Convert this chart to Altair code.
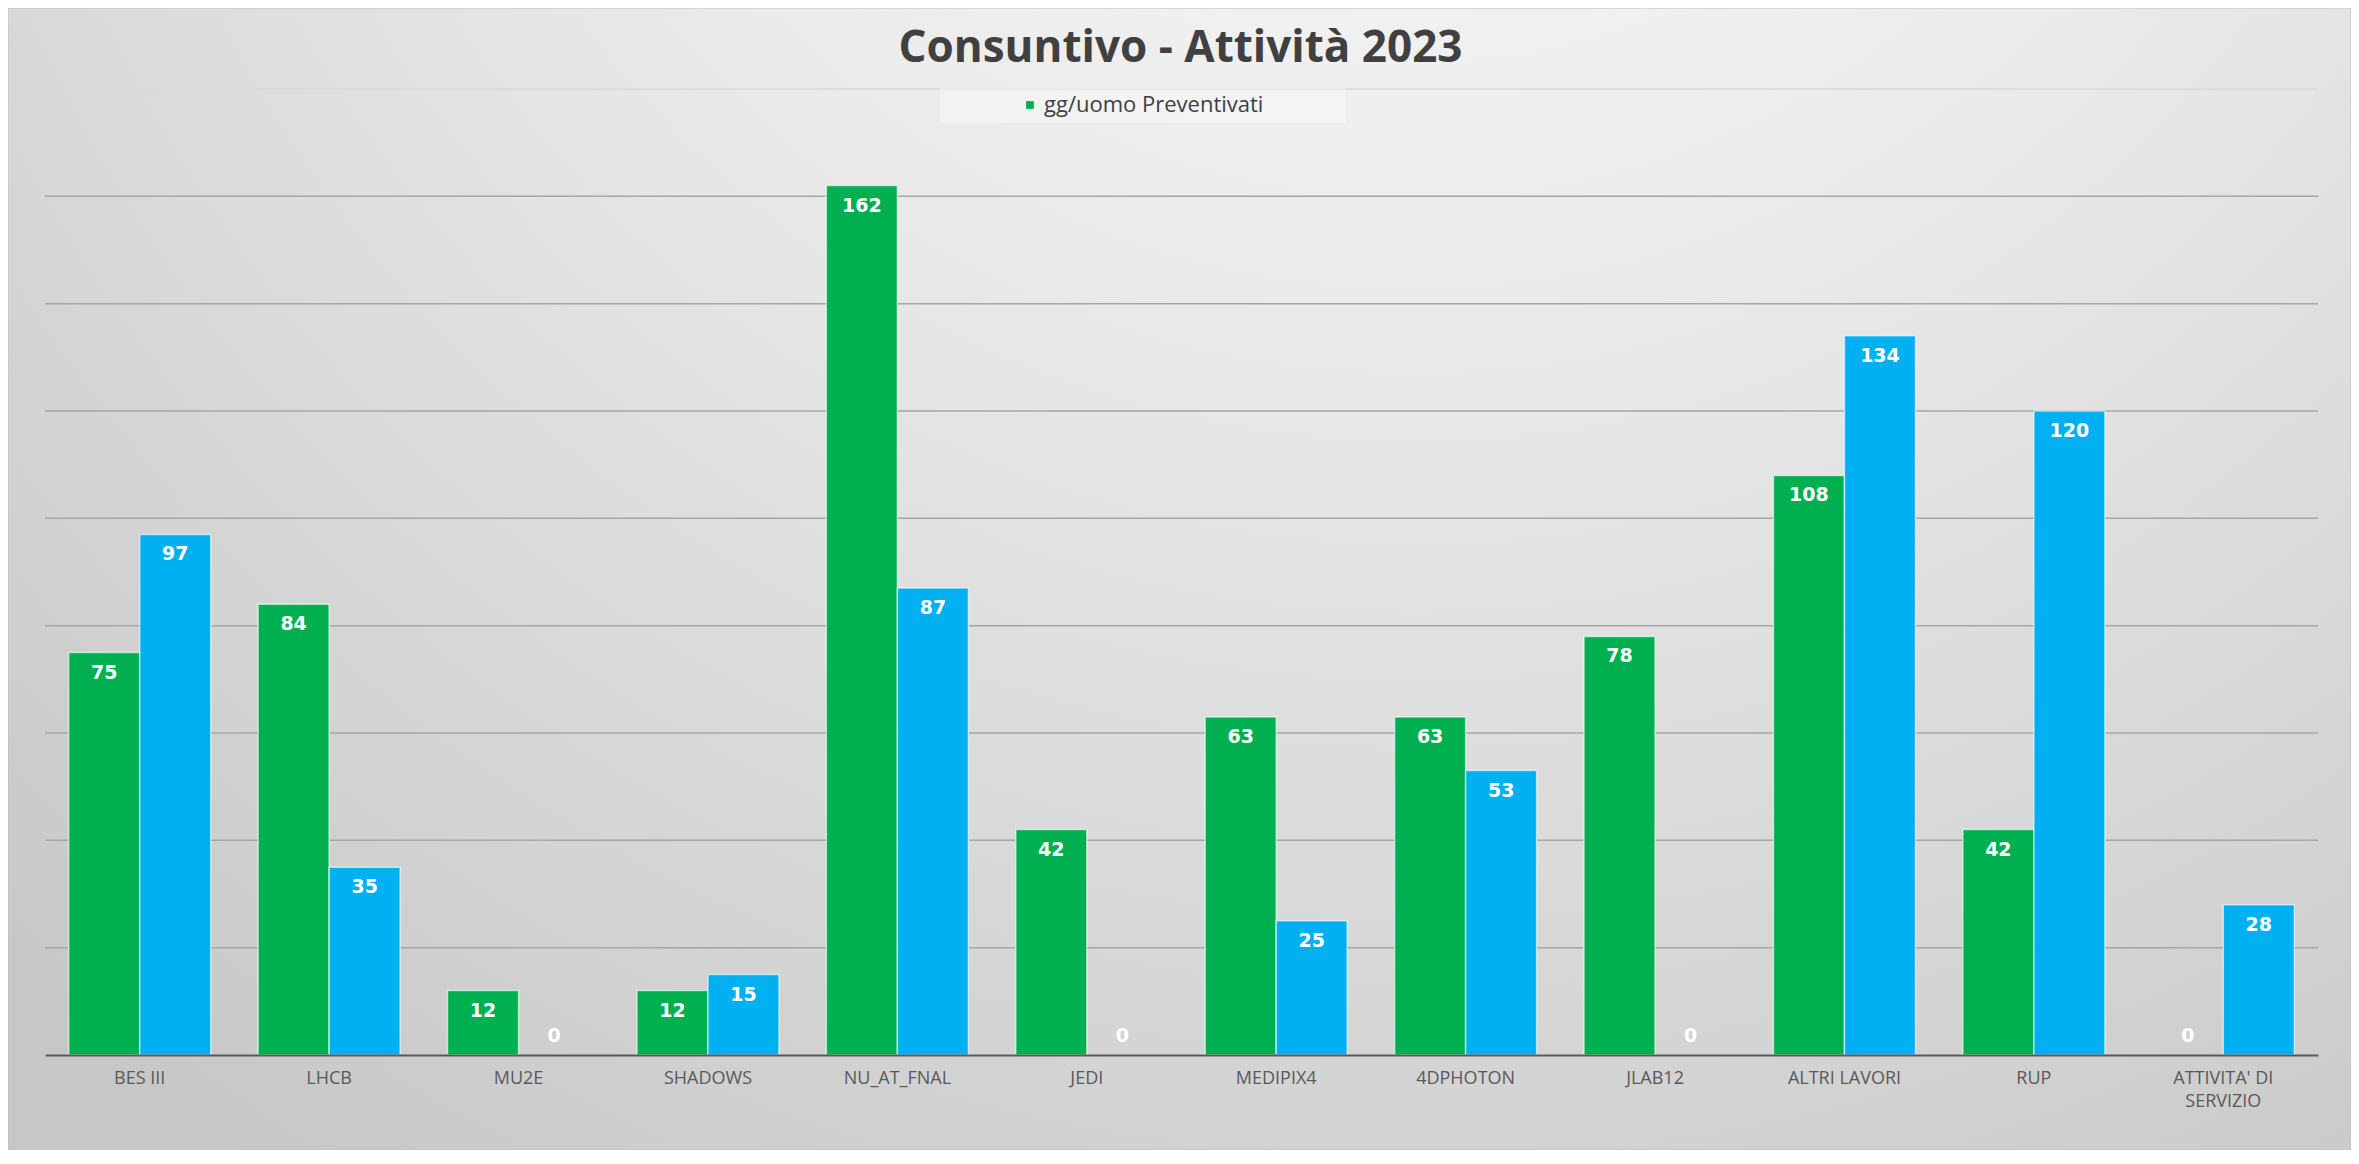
import altair as alt
import pandas as pd

# ---- data ----
categories = ["BES III", "LHCB", "MU2E", "SHADOWS", "NU_AT_FNAL", "JEDI", "MEDIPIX4",
              "4DPHOTON", "JLAB12", "ALTRI LAVORI", "RUP", "ATTIVITA' DI\nSERVIZIO"]
preventivati = [75, 84, 12, 12, 162, 42, 63, 63, 78, 108, 42, 0]
consuntivati = [97, 35, 0, 15, 87, 0, 25, 53, 0, 134, 120, 28]
series_names = ["gg/uomo Preventivati", "gg/uomo Consuntivati"]
series_colors = ["#00B050", "#00B0F0"]
title_text = "Consuntivo - Attività 2023"
y_grid = [20, 40, 60, 80, 100, 120, 140, 160, 180]

rows = []
for c, p, k in zip(categories, preventivati, consuntivati):
    rows.append({"cat": c, "serie": series_names[0], "val": p})
    rows.append({"cat": c, "serie": series_names[1], "val": k})
df = pd.DataFrame(rows)
grid_df = pd.DataFrame({"g": y_grid})

W, H = 2273, 966
FONT = "Open Sans"
LABEL_FONT = "DejaVu Sans"

y_scale = alt.Scale(domain=[0, 180], nice=False)

x_enc = alt.X("cat:N", sort=categories, title=None,
              scale=alt.Scale(paddingInner=0.25, paddingOuter=0.125),
              axis=alt.Axis(labelAngle=0, labelFontSize=18, labelColor="#595959",
                            labelFont=FONT, labelPadding=14, labelLineHeight=23,
                            labelExpr="split(datum.label, '\\n')",
                            ticks=False, domainColor="#595959", domainWidth=2,
                            grid=False, labelLimit=300, zindex=2))
xo_enc = alt.XOffset("serie:N", sort=series_names,
                     scale=alt.Scale(domain=series_names, paddingInner=0, paddingOuter=0))
y_enc = alt.Y("val:Q", title=None, scale=y_scale, axis=None)
color_enc = alt.Color("serie:N", scale=alt.Scale(domain=series_names, range=series_colors),
                      legend=alt.Legend(values=[series_names[0]], title=None, orient="none",
                                        legendX=974, legendY=5, symbolType="square",
                                        symbolSize=60, symbolStrokeWidth=0,
                                        labelFontSize=22, labelFont=FONT, labelColor="#404040",
                                        labelOffset=3, padding=0, labelLimit=400))

one = pd.DataFrame({"t": [title_text]})

bg = alt.Chart(one).mark_rect(
    fill=alt.RadialGradient(gradient="radial",
                            stops=[alt.GradientStop(offset=0, color="#fefefe"),
                                   alt.GradientStop(offset=0.45, color="#e9e9e9"),
                                   alt.GradientStop(offset=1, color="#c7c7c7")],
                            x1=0.6, y1=0.0, r1=0, x2=0.6, y2=0.0, r2=0.9),
    stroke="#bfbfbf", strokeWidth=1
).encode(x=alt.value(-37), x2=alt.value(W + 33), y=alt.value(-81), y2=alt.value(H + 95))

grid = alt.Chart(grid_df).mark_rule(strokeWidth=1.5).encode(
    y=alt.Y("g:Q", scale=y_scale, axis=None),
    x=alt.value(0), x2=alt.value(W),
    color=alt.condition("datum.g == 180", alt.value("#d9d9d9"), alt.value("#a6a6a6")))

legend_box = alt.Chart(one).mark_rect(fill="#ffffff", opacity=0.35).encode(
    x=alt.value(895), x2=alt.value(1301), y=alt.value(-1), y2=alt.value(34))

title = alt.Chart(one).mark_text(font=FONT, fontWeight="bold", fontSize=44, color="#404040",
                                 baseline="alphabetic", align="center").encode(
    text="t:N", x=alt.value(W / 2 - 1), y=alt.value(-27))

base = alt.Chart(df)
bars = base.transform_filter("datum.val > 0").mark_bar(
    stroke="#ffffff", strokeWidth=1.5, strokeOpacity=0.6
).encode(x=x_enc, xOffset=xo_enc, y=y_enc, color=color_enc)

labels_in = base.transform_filter("datum.val > 0").mark_text(
    font=LABEL_FONT, fontWeight="bold", fontSize=19, color="#ffffff", baseline="middle", dy=20
).encode(x=alt.X("cat:N", sort=categories), xOffset=xo_enc, y=alt.Y("val:Q"), text="val:Q")

labels_zero = base.transform_filter("datum.val == 0").mark_text(
    font=LABEL_FONT, fontWeight="bold", fontSize=19, color="#ffffff", baseline="middle", dy=-19
).encode(x=alt.X("cat:N", sort=categories), xOffset=xo_enc, y=alt.Y("val:Q"), text="val:Q")

chart = alt.layer(bg, grid, legend_box, title, bars, labels_in, labels_zero).properties(
    width=W, height=H,
    autosize=alt.AutoSizeParams(type="none"),
    padding={"left": 37, "top": 81, "right": 33, "bottom": 95},
).configure_view(stroke=None).configure(background="#ffffff")

chart.save("out.html", embed_options={"renderer": "svg", "actions": False})
